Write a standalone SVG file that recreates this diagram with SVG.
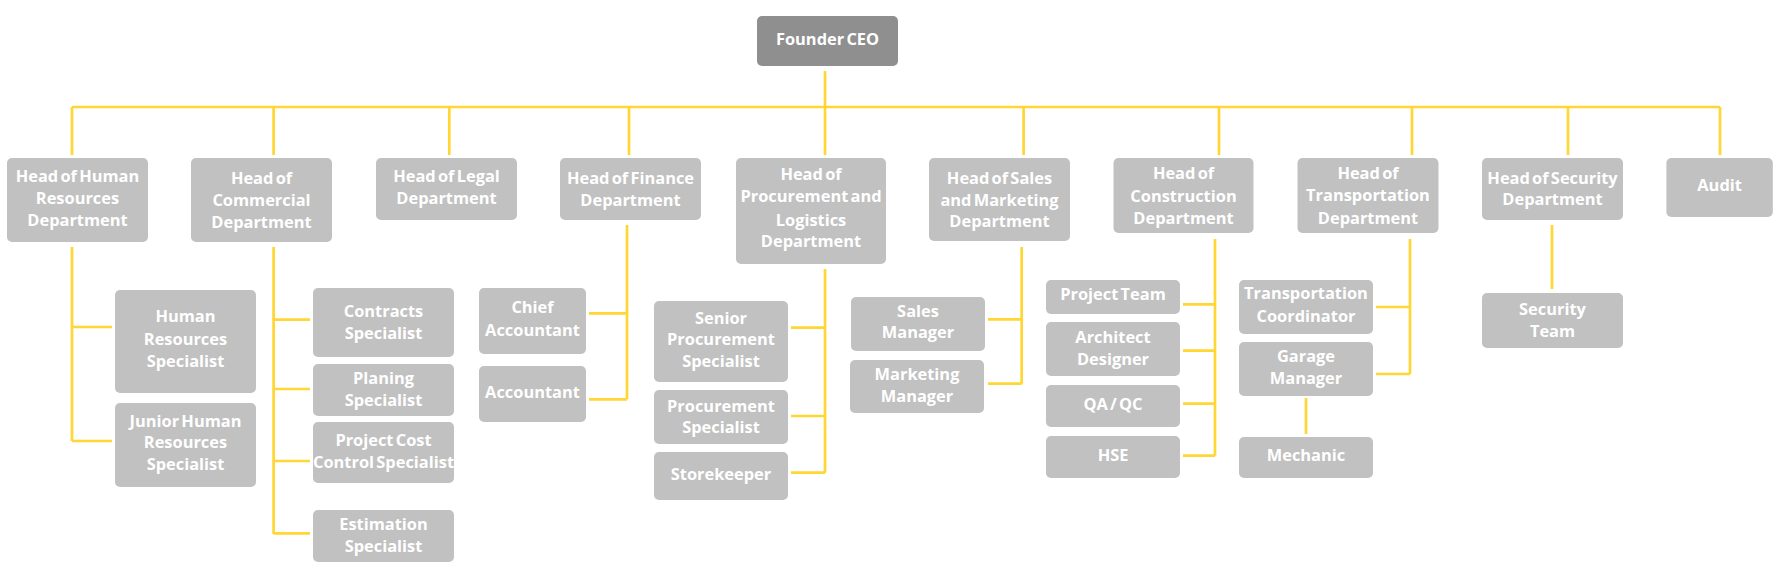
<svg xmlns="http://www.w3.org/2000/svg" width="1780" height="582" viewBox="0 0 1780 582">
<style>
.b{fill:#c1c1c1}
.ceo{fill:#8f8f8f}
.t{fill:#ffffff;font-family:"Open Sans","Noto Sans","Liberation Sans",sans-serif;font-weight:700;font-size:16.4px;text-anchor:middle;word-spacing:-2px}
.c{fill:none;stroke:#ffd633;stroke-width:2.7}
</style>
<rect width="1780" height="582" fill="#ffffff"/>
<g id="connectors" class="c">
<path d="M825 71V107M72 107H1720M72 107V155M273.6 107V155M449.3 107V155M629 107V155M825 107V155M1023.6 107V155M1219 107V155M1412 107V155M1568 107V155M1720 107V155"/>
<path d="M72 247V441M72 327H112M72 441H112"/>
<path d="M273.6 247V534M273.6 319.7H310M273.6 389H310M273.6 461H310M273.6 533.3H310"/>
<path d="M627 225V399.3M589 313.3H627M589 399.3H627"/>
<path d="M825 269V472.7M791 327.7H825M791 416H825M791 472.7H825"/>
<path d="M1021.7 247V383.7M988 319.3H1021.7M988 383.7H1021.7"/>
<path d="M1215 239V455.7M1183 304.3H1215M1183 350.7H1215M1183 403.7H1215M1183 455.7H1215"/>
<path d="M1410 239V374M1376 307H1410M1376 374H1410"/>
<path d="M1306 398V434"/>
<path d="M1552 225V289"/>
</g>
<g id="ceo"><rect class="ceo" x="757" y="16" width="141" height="50" rx="5"/><text class="t" x="827.5" y="45">Founder CEO</text></g>
<g id="head-hr"><rect class="b" x="7" y="158" width="141" height="84" rx="5"/><text class="t"><tspan x="77.5" y="181.7">Head of Human</tspan><tspan x="77.5" y="203.7">Resources</tspan><tspan x="77.5" y="225.7">Department</tspan></text></g>
<g id="head-commercial"><rect class="b" x="191" y="158" width="141" height="84" rx="5"/><text class="t"><tspan x="261.5" y="183.7">Head of</tspan><tspan x="261.5" y="205.7">Commercial</tspan><tspan x="261.5" y="228.3">Department</tspan></text></g>
<g id="head-legal"><rect class="b" x="376" y="158" width="141" height="62" rx="5"/><text class="t"><tspan x="446.5" y="181.7">Head of Legal</tspan><tspan x="446.5" y="203.7">Department</tspan></text></g>
<g id="head-finance"><rect class="b" x="560" y="158" width="141" height="62" rx="5"/><text class="t"><tspan x="630.5" y="183.7">Head of Finance</tspan><tspan x="630.5" y="205.7">Department</tspan></text></g>
<g id="head-procurement"><rect class="b" x="736" y="158" width="150" height="106" rx="5"/><text class="t"><tspan x="811" y="180">Head of</tspan><tspan x="811" y="202.3">Procurement and</tspan><tspan x="811" y="225.7">Logistics</tspan><tspan x="811" y="247.3">Department</tspan></text></g>
<g id="head-sales"><rect class="b" x="929" y="158" width="141" height="83" rx="5"/><text class="t"><tspan x="999.5" y="183.7">Head of Sales</tspan><tspan x="999.5" y="205.7">and Marketing</tspan><tspan x="999.5" y="227.3">Department</tspan></text></g>
<g id="head-construction"><rect class="b" x="1113.5" y="158" width="140" height="75" rx="5"/><text class="t"><tspan x="1183.5" y="179.3">Head of</tspan><tspan x="1183.5" y="201.7">Construction</tspan><tspan x="1183.5" y="224">Department</tspan></text></g>
<g id="head-transportation"><rect class="b" x="1297.5" y="158" width="141" height="75" rx="5"/><text class="t"><tspan x="1368" y="179.3">Head of</tspan><tspan x="1368" y="201.3">Transportation</tspan><tspan x="1368" y="224">Department</tspan></text></g>
<g id="head-security"><rect class="b" x="1482" y="158" width="141" height="62" rx="5"/><text class="t"><tspan x="1552.5" y="183.7">Head of Security</tspan><tspan x="1552.5" y="205.3">Department</tspan></text></g>
<g id="audit"><rect class="b" x="1666.4" y="158" width="106.4" height="59" rx="5"/><text class="t" x="1719.6" y="191">Audit</text></g>
<g id="hr-specialist"><rect class="b" x="115" y="290" width="141" height="103" rx="5"/><text class="t"><tspan x="185.5" y="322.3">Human</tspan><tspan x="185.5" y="345.3">Resources</tspan><tspan x="185.5" y="367.3">Specialist</tspan></text></g>
<g id="junior-hr"><rect class="b" x="115" y="403" width="141" height="84" rx="5"/><text class="t"><tspan x="185.5" y="426.7">Junior Human</tspan><tspan x="185.5" y="448.3">Resources</tspan><tspan x="185.5" y="470.3">Specialist</tspan></text></g>
<g id="contracts"><rect class="b" x="313" y="288" width="141" height="69" rx="5"/><text class="t"><tspan x="383.5" y="317.3">Contracts</tspan><tspan x="383.5" y="339.3">Specialist</tspan></text></g>
<g id="planing"><rect class="b" x="313" y="364" width="141" height="52" rx="5"/><text class="t"><tspan x="383.5" y="383.7">Planing</tspan><tspan x="383.5" y="406.3">Specialist</tspan></text></g>
<g id="cost-control"><rect class="b" x="313" y="422" width="141" height="61" rx="5"/><text class="t"><tspan x="383.5" y="446.3">Project Cost</tspan><tspan x="383.5" y="468.3">Control Specialist</tspan></text></g>
<g id="estimation"><rect class="b" x="313" y="510" width="141" height="52" rx="5"/><text class="t"><tspan x="383.5" y="530.3">Estimation</tspan><tspan x="383.5" y="552.3">Specialist</tspan></text></g>
<g id="chief-accountant"><rect class="b" x="479" y="288" width="107" height="66" rx="5"/><text class="t"><tspan x="532.5" y="313">Chief</tspan><tspan x="532.5" y="335.7">Accountant</tspan></text></g>
<g id="accountant"><rect class="b" x="479" y="366" width="107" height="56" rx="5"/><text class="t" x="532.5" y="398.3">Accountant</text></g>
<g id="senior-procurement"><rect class="b" x="654" y="301" width="134" height="81" rx="5"/><text class="t"><tspan x="721" y="323.7">Senior</tspan><tspan x="721" y="345.3">Procurement</tspan><tspan x="721" y="367.3">Specialist</tspan></text></g>
<g id="procurement-specialist"><rect class="b" x="654" y="390" width="134" height="54" rx="5"/><text class="t"><tspan x="721" y="411.7">Procurement</tspan><tspan x="721" y="433.3">Specialist</tspan></text></g>
<g id="storekeeper"><rect class="b" x="654" y="452" width="134" height="48" rx="5"/><text class="t" x="721" y="480.3">Storekeeper</text></g>
<g id="sales-manager"><rect class="b" x="851" y="297" width="134" height="54" rx="5"/><text class="t"><tspan x="918" y="316.7">Sales</tspan><tspan x="918" y="338.3">Manager</tspan></text></g>
<g id="marketing-manager"><rect class="b" x="850" y="360" width="134" height="53" rx="5"/><text class="t"><tspan x="917" y="379.7">Marketing</tspan><tspan x="917" y="402.3">Manager</tspan></text></g>
<g id="project-team"><rect class="b" x="1046" y="280" width="134" height="34" rx="5"/><text class="t" x="1113" y="300.3">Project Team</text></g>
<g id="architect"><rect class="b" x="1046" y="322" width="134" height="54" rx="5"/><text class="t"><tspan x="1113" y="343.3">Architect</tspan><tspan x="1113" y="365.3">Designer</tspan></text></g>
<g id="qa-qc"><rect class="b" x="1046" y="385" width="134" height="42" rx="5"/><text class="t" x="1113" y="410.3">QA / QC</text></g>
<g id="hse"><rect class="b" x="1046" y="436" width="134" height="42" rx="5"/><text class="t" x="1113" y="461">HSE</text></g>
<g id="transport-coordinator"><rect class="b" x="1239" y="280" width="134" height="54" rx="5"/><text class="t"><tspan x="1306" y="299">Transportation</tspan><tspan x="1306" y="322.3">Coordinator</tspan></text></g>
<g id="garage-manager"><rect class="b" x="1239" y="342" width="134" height="54" rx="5"/><text class="t"><tspan x="1306" y="361.7">Garage</tspan><tspan x="1306" y="383.7">Manager</tspan></text></g>
<g id="mechanic"><rect class="b" x="1239" y="437" width="134" height="41" rx="5"/><text class="t" x="1306" y="461">Mechanic</text></g>
<g id="security-team"><rect class="b" x="1482" y="293" width="141" height="55" rx="5"/><text class="t"><tspan x="1552.5" y="315.3">Security</tspan><tspan x="1552.5" y="337.3">Team</tspan></text></g>
</svg>
